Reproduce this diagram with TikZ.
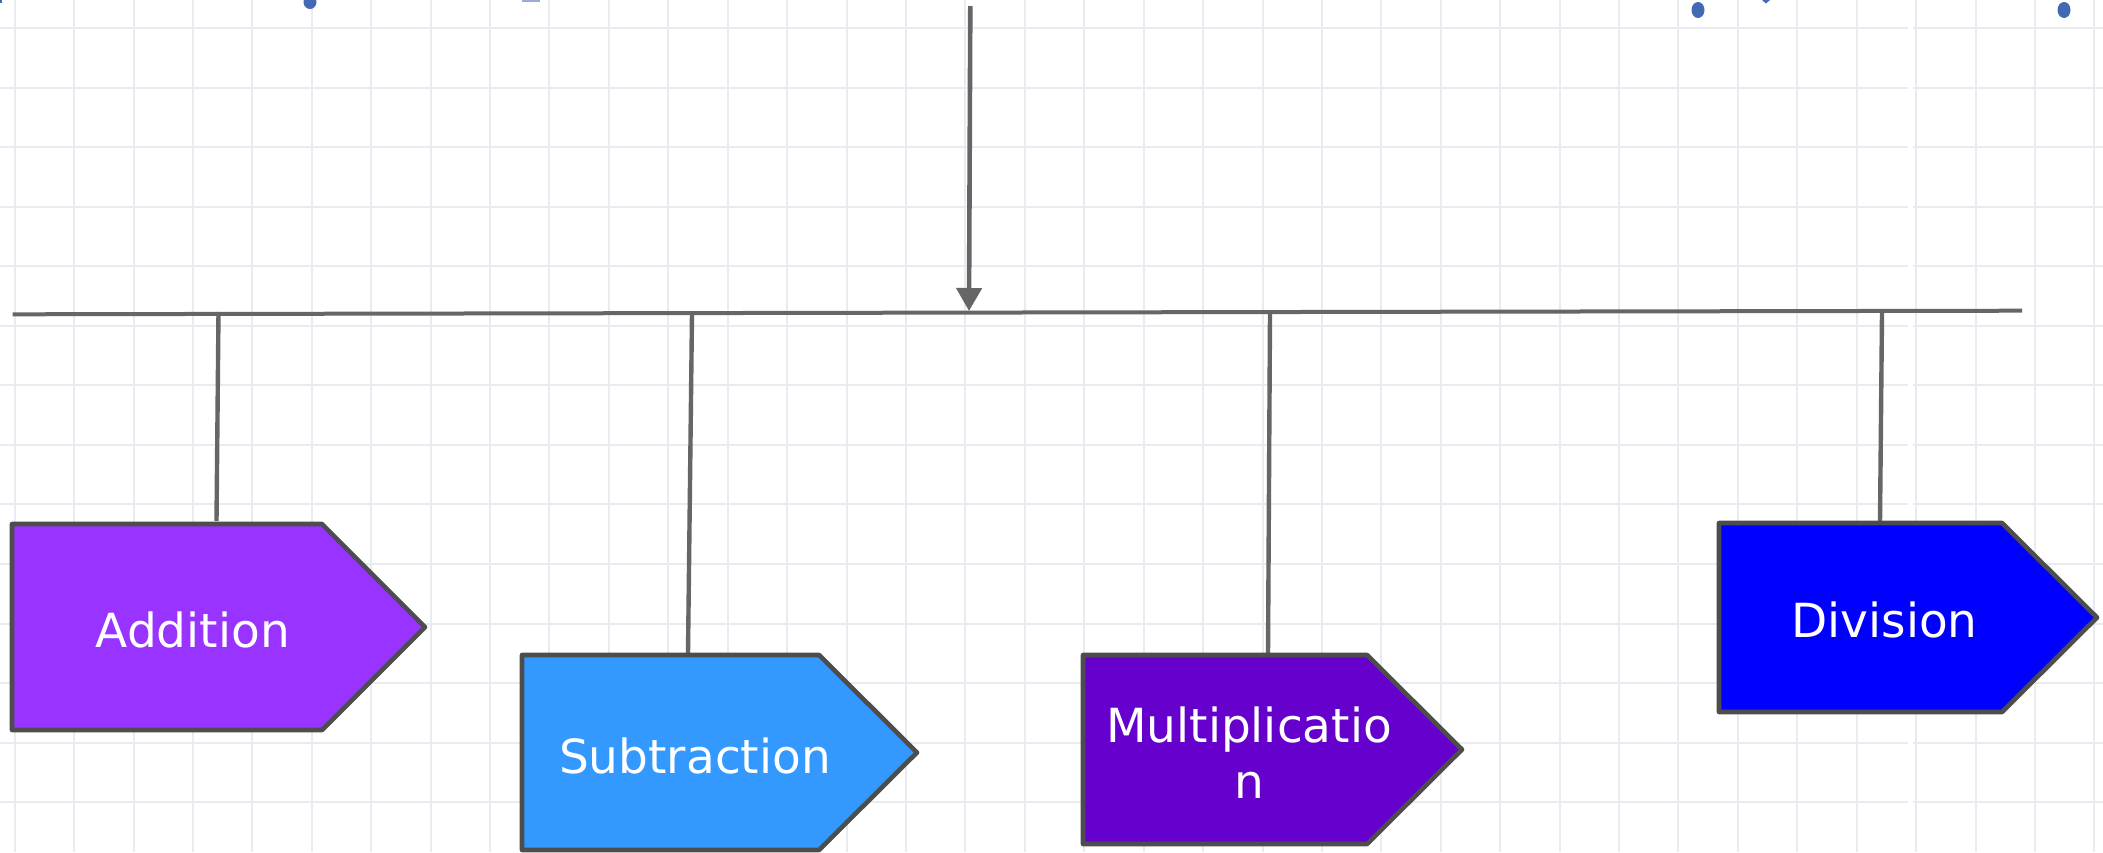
\documentclass[tikz,border=0pt]{standalone}
\usepackage{fontspec}
\setmainfont{DejaVu Sans}
\usetikzlibrary{arrows.meta}
\definecolor{gridc}{RGB}{234,234,243}
\definecolor{linec}{HTML}{666666}
\definecolor{borderc}{HTML}{4D4D4D}
\definecolor{addc}{HTML}{9933FF}
\definecolor{subc}{HTML}{3399FF}
\definecolor{mulc}{HTML}{6600CC}
\definecolor{divc}{HTML}{0000FF}
\definecolor{dotc}{RGB}{68,105,180}
\newcommand\pentag[3]{\filldraw[tagline,fill=#3] (#1.north west) -- ([xshift=-#2]#1.north east) -- (#1.east) -- ([xshift=-#2]#1.south east) -- (#1.south west) -- cycle;}
\begin{document}
\begin{tikzpicture}[x=0.5pt,y=-0.5pt,
  gridline/.style={draw=gridc,line width=1pt},
  conn/.style={draw=linec,line width=2.2pt},
  area/.style={draw=none,inner sep=0pt,outer sep=0pt,rectangle},
  tagline/.style={draw=borderc,line width=2.3pt,line join=round},
  lbl/.style={text=white,font=\fontsize{23.5}{28}\selectfont,inner sep=0pt,anchor=base},
]
\fill[white] (0,0) rectangle (2103,852);
\useasboundingbox (0,0) rectangle (2103,852);
\begin{scope}
\clip (0,0) rectangle (2103,852);
\foreach \k in {0,...,35} {\draw[gridline] ({14.7+59.42*\k},0) -- ({14.7+59.42*\k},852);}
\foreach \k in {0,...,13} {
  \draw[gridline] (0,{28+59.55*\k}) -- (1908,{28+59.55*\k});
  \draw[gridline] (1913,{28+59.55*\k}) -- (2103,{28+59.55*\k});
}
% partly cut items at the top edge
\fill[dotc] (0,0) rectangle (1.5,3);
\fill[dotc] (310,2) ellipse [x radius=6.5, y radius=7];
\fill[dotc!55] (522,0) rectangle (540,1.8);
\fill[dotc] (1698,10) ellipse [x radius=6.5, y radius=8];
\fill[dotc] (2064,10) ellipse [x radius=6.5, y radius=8];
\fill[dotc] (1762,0) -- (1770,0) -- (1766,3.5) -- cycle;
\end{scope}

% bus line and arrow
\coordinate (busL) at (12.7,314.3);
\coordinate (busR) at (2022,310.7);
\draw[conn,line width=2pt] (busL) -- (busR);
\coordinate (arrS) at (970.3,6);
\coordinate (arrE) at (969,311);
\draw[conn,line width=2.3pt,-{Triangle[length=11.5pt,width=12.5pt]},fill=linec] (arrS) -- (arrE);

% shapes
\node[area,minimum width=206.5pt,minimum height=103pt] (add) at (218.5,627) {};
\node[area,minimum width=197.5pt,minimum height=97.5pt] (sub) at (719.5,752.5) {};
\node[area,minimum width=189.5pt,minimum height=94.5pt] (mul) at (1272.5,749.5) {};
\node[area,minimum width=189pt,minimum height=94.5pt] (div) at (1908,617.5) {};

% connectors
\coordinate (ta) at (218.5,312); \coordinate (ba) at (216.5,521);
\coordinate (ts) at (692,313);   \coordinate (bs) at (688,653);
\coordinate (tm) at (1270,313);  \coordinate (bm) at (1268,653);
\coordinate (td) at (1882,312);  \coordinate (bd) at (1880,521);
\draw[conn] (ta) -- (ba);
\draw[conn] (ts) -- (bs);
\draw[conn] (tm) -- (bm);
\draw[conn] (td) -- (bd);

\pentag{add}{51.5pt}{addc}
\pentag{sub}{49pt}{subc}
\pentag{mul}{47.5pt}{mulc}
\pentag{div}{47.5pt}{divc}

\node[lbl] (addt) at (192.75,647) {Addition};
\node[lbl] (subt) at (695,773) {Subtraction};
\node[lbl,align=center] (mult) at (1249,798) {Multiplicatio\\n};
\node[lbl] (divt) at (1884.5,637) {Division};
\end{tikzpicture}
\end{document}
